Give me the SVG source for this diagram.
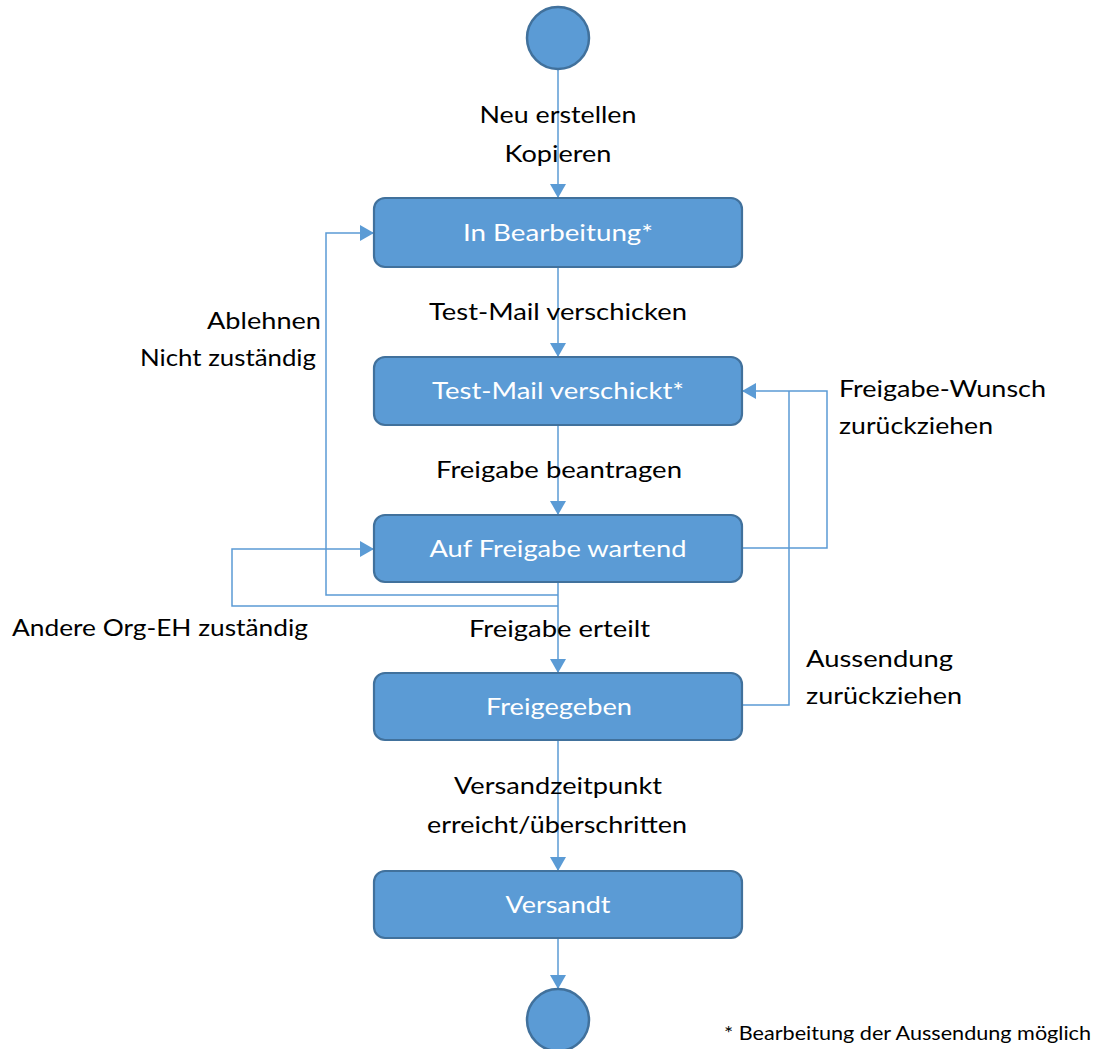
<svg xmlns="http://www.w3.org/2000/svg" width="1098" height="1049" viewBox="0 0 1098 1049">
<style>
.box{fill:#5B9BD5;stroke:#41719C;stroke-width:2.2}
.term{fill:#5B9BD5;stroke:#41719C;stroke-width:2.5}
.bt{font-family:"Lato","Liberation Sans",sans-serif;font-size:23.5px;fill:#FFFFFF;text-anchor:middle}
.lbl{font-family:"Lato","Liberation Sans",sans-serif;font-size:23.5px;fill:#000000}
.mid{text-anchor:middle}
.conn path{fill:none;stroke:#5B9BD5;stroke-width:1.5}
.note{font-family:"Lato","Liberation Sans",sans-serif;font-size:19px;fill:#000000}
</style>
<defs>
<marker id="arr" viewBox="0 0 14 16" refX="14" refY="8" markerWidth="14" markerHeight="16" markerUnits="userSpaceOnUse" orient="auto">
<path d="M0,0 L14,8 L0,16 Z" fill="#5B9BD5"/>
</marker>
</defs>
<rect width="1098" height="1049" fill="#FFFFFF"/>
<g id="connectors" class="conn">
<path d="M558,70 V198" marker-end="url(#arr)"/>
<path d="M558,267 V357" marker-end="url(#arr)"/>
<path d="M558,425 V515" marker-end="url(#arr)"/>
<path d="M558,582 V673" marker-end="url(#arr)"/>
<path d="M558,740 V871" marker-end="url(#arr)"/>
<path d="M558,938 V989" marker-end="url(#arr)"/>
<path d="M558,595 H326 V233 H374" marker-end="url(#arr)"/>
<path d="M558,606 H232 V549 H374" marker-end="url(#arr)"/>
<path d="M742,548 H827 V391 H742" marker-end="url(#arr)"/>
<path d="M742,705 H789 V391"/>
</g>
<g id="start"><circle class="term" cx="558" cy="38" r="31"/></g>
<g id="in-bearbeitung"><rect class="box" x="374" y="198" width="368" height="69" rx="11"/><text class="bt" x="558" y="241" textLength="190" lengthAdjust="spacingAndGlyphs">In Bearbeitung*</text></g>
<g id="test-mail-verschickt"><rect class="box" x="374" y="357" width="368" height="68" rx="11"/><text class="bt" x="558" y="399" textLength="252" lengthAdjust="spacingAndGlyphs">Test-Mail verschickt*</text></g>
<g id="auf-freigabe-wartend"><rect class="box" x="374" y="515" width="368" height="67" rx="11"/><text class="bt" x="558" y="557" textLength="257" lengthAdjust="spacingAndGlyphs">Auf Freigabe wartend</text></g>
<g id="freigegeben"><rect class="box" x="374" y="673" width="368" height="67" rx="11"/><text class="bt" x="559" y="715" textLength="146" lengthAdjust="spacingAndGlyphs">Freigegeben</text></g>
<g id="versandt"><rect class="box" x="374" y="871" width="368" height="67" rx="11"/><text class="bt" x="558" y="913" textLength="105" lengthAdjust="spacingAndGlyphs">Versandt</text></g>
<g id="end"><circle class="term" cx="558" cy="1020" r="31"/></g>
<g id="labels">
<text class="lbl mid" x="558" y="123" textLength="157" lengthAdjust="spacingAndGlyphs">Neu erstellen</text>
<text class="lbl mid" x="558" y="162" textLength="107" lengthAdjust="spacingAndGlyphs">Kopieren</text>
<text class="lbl mid" x="558" y="320" textLength="258" lengthAdjust="spacingAndGlyphs">Test-Mail verschicken</text>
<text class="lbl mid" x="559" y="478" textLength="246" lengthAdjust="spacingAndGlyphs">Freigabe beantragen</text>
<text class="lbl" x="469" y="637" textLength="181" lengthAdjust="spacingAndGlyphs">Freigabe erteilt</text>
<text class="lbl mid" x="558" y="794" textLength="208" lengthAdjust="spacingAndGlyphs">Versandzeitpunkt</text>
<text class="lbl mid" x="557" y="833" textLength="260" lengthAdjust="spacingAndGlyphs">erreicht/überschritten</text>
<text class="lbl" x="207" y="329" textLength="114" lengthAdjust="spacingAndGlyphs">Ablehnen</text>
<text class="lbl" x="140" y="366" textLength="176" lengthAdjust="spacingAndGlyphs">Nicht zuständig</text>
<text class="lbl" x="12" y="636" textLength="296" lengthAdjust="spacingAndGlyphs">Andere Org-EH zuständig</text>
<text class="lbl" x="839" y="397" textLength="207" lengthAdjust="spacingAndGlyphs">Freigabe-Wunsch</text>
<text class="lbl" x="839" y="434" textLength="154" lengthAdjust="spacingAndGlyphs">zurückziehen</text>
<text class="lbl" x="806" y="667" textLength="147" lengthAdjust="spacingAndGlyphs">Aussendung</text>
<text class="lbl" x="806" y="704" textLength="156" lengthAdjust="spacingAndGlyphs">zurückziehen</text>
<text class="note" x="724" y="1040" textLength="367" lengthAdjust="spacingAndGlyphs">* Bearbeitung der Aussendung möglich</text>
</g>
</svg>
